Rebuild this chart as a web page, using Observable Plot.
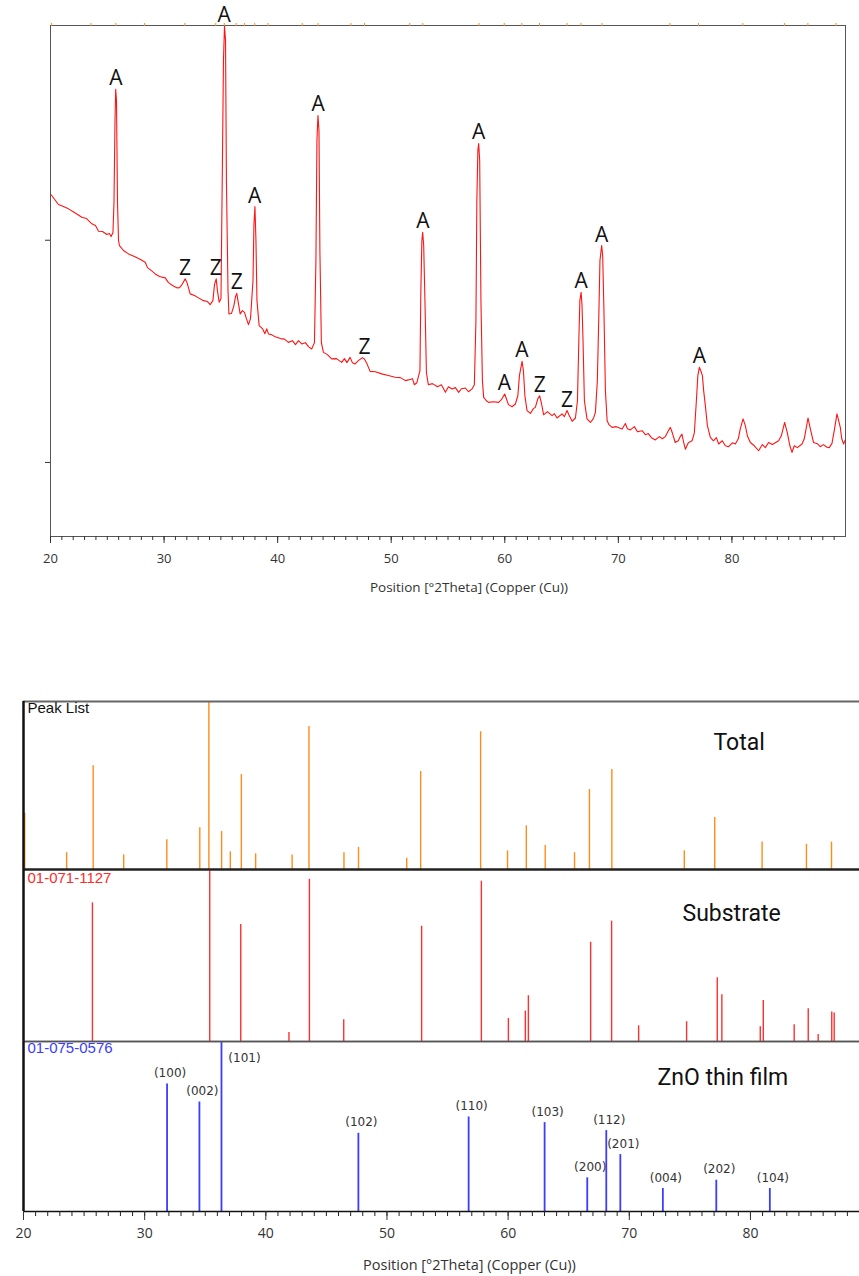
<!DOCTYPE html>
<html><head><meta charset="utf-8">
<script src="https://cdn.jsdelivr.net/npm/d3@7"></script>
<script src="https://cdn.jsdelivr.net/npm/@observablehq/plot@0.6"></script>
<style>
html,body{margin:0;padding:0;background:#fff;}
#wrap{position:relative;width:859px;height:1276px;overflow:hidden;background:#fff;}
#wrap svg{position:absolute;left:0;}
.axt{position:absolute;transform:translateX(-50%);white-space:nowrap;font-family:"Open Sans";color:#333;line-height:1;}
</style></head><body><div id="wrap"></div>
<script>
// ---------- Measured XRD pattern (top chart) ----------
const twoTheta = [20.04,20.70,21.14,21.58,22.11,22.76,23.17,23.64,23.96,24.23,24.58,24.96,25.19,25.34,25.50,25.59,25.68,25.74,25.81,25.90,25.99,26.07,26.43,26.87,27.39,27.92,28.34,28.54,28.89,29.22,29.60,30.10,30.39,30.74,31.12,31.36,31.58,31.86,32.02,32.30,32.68,33.03,33.47,33.82,34.06,34.30,34.44,34.59,34.70,34.85,35.01,35.14,35.23,35.32,35.41,35.49,35.63,35.71,35.93,36.15,36.29,36.40,36.55,36.70,36.90,37.08,37.25,37.43,37.61,37.83,37.91,38.00,38.09,38.18,38.37,38.66,38.88,39.04,39.19,39.45,39.78,40.25,40.60,40.95,41.30,41.57,41.83,42.12,42.45,42.71,43.00,43.24,43.37,43.46,43.55,43.64,43.72,43.85,44.03,44.38,44.76,45.18,45.64,45.88,46.10,46.38,46.58,46.82,47.11,47.46,47.64,47.86,48.14,48.61,49.16,49.75,50.34,50.81,51.25,51.51,51.87,52.04,52.26,52.53,52.61,52.70,52.77,52.86,52.97,53.10,53.27,53.63,54.07,54.42,54.77,55.04,55.36,55.65,55.94,56.18,56.53,56.80,57.12,57.32,57.46,57.54,57.63,57.70,57.79,57.90,58.03,58.14,58.38,58.58,59.00,59.46,59.70,59.99,60.14,60.32,60.64,60.93,61.15,61.29,61.52,61.64,61.77,61.96,62.25,62.52,62.69,62.91,63.07,63.22,63.42,63.75,64.16,64.37,64.60,65.04,65.25,65.48,65.64,65.93,66.22,66.40,66.52,66.61,66.72,66.80,66.89,67.01,67.24,67.54,67.80,67.98,68.15,68.29,68.38,68.53,68.62,68.73,68.86,69.01,69.17,69.45,69.82,70.33,70.62,70.79,71.06,71.41,71.68,72.09,72.38,72.64,72.91,73.26,73.61,73.87,74.14,74.40,74.58,74.75,75.01,75.28,75.45,75.60,75.72,75.90,76.16,76.49,76.69,76.87,77.00,77.13,77.26,77.40,77.51,77.66,77.84,78.10,78.37,78.63,78.83,79.15,79.42,79.71,80.04,80.30,80.56,80.74,80.98,81.18,81.36,81.62,81.97,82.35,82.68,82.94,83.23,83.56,83.82,84.11,84.35,84.64,84.88,85.10,85.29,85.49,85.76,86.17,86.37,86.70,86.90,87.19,87.52,87.78,88.05,88.37,88.57,88.81,89.01,89.25,89.40,89.54,89.67,89.83,89.98];
const counts = [2132,2009,1985,1957,1913,1858,1843,1782,1763,1699,1696,1662,1673,1640,1684,2033,3156,3644,3467,2033,1597,1543,1491,1456,1429,1398,1371,1318,1289,1257,1232,1219,1175,1148,1127,1129,1157,1210,1175,1073,1058,1038,1014,1006,980,1014,1157,1210,1102,1000,1032,2578,4132,4744,4487,2311,1102,903,906,972,1049,1078,989,903,930,916,865,818,865,1194,1763,1985,1597,1014,811,788,750,786,748,743,728,714,710,687,699,671,699,676,685,657,641,685,1388,2859,3232,3005,1491,685,618,603,575,577,553,577,551,585,551,543,564,583,575,545,497,495,482,472,462,460,443,447,454,420,431,501,1102,1597,1688,1543,1014,489,420,426,409,420,379,409,397,404,379,398,402,382,397,420,850,2058,2717,2816,2578,1014,443,353,336,328,331,328,341,370,346,317,307,320,361,472,559,501,361,289,276,298,304,346,361,326,270,284,266,275,256,274,262,289,270,242,256,336,699,1014,1087,972,699,336,252,237,253,281,443,930,1388,1543,1439,930,388,245,228,217,220,211,233,212,207,220,200,204,189,193,178,170,182,174,182,204,217,196,161,167,182,191,167,139,160,167,196,336,472,522,501,472,388,312,224,179,167,178,156,167,150,147,160,156,174,212,252,224,185,161,150,134,154,144,161,154,160,167,185,237,196,150,129,150,144,156,174,256,212,161,157,147,154,145,144,158,204,274,245,217,174,156,170];

// Phase labels on the measured pattern
const labelPos  = [25.75,31.85,34.55,35.3,36.4,37.98,43.56,47.65,52.78,57.7,59.97,61.5,63.07,65.48,66.72,68.53,77.13];
const labelText = ["A","Z","Z","A","Z","A","A","Z","A","A","A","A","Z","Z","A","A","A"];

// ---------- Peak list (Total) ----------
const peakListPos = [20.1,23.56,25.75,28.27,31.83,34.55,35.3,36.35,37.07,37.98,39.16,42.17,43.56,46.45,47.65,51.63,52.78,57.73,59.95,61.5,63.06,65.48,66.71,68.56,74.54,77.05,80.96,84.62,86.69,89.16];
const peakListRel = [33.5,10,61.7,8.7,17.7,24.8,100,22.6,10.5,56.5,9.3,8.7,85.1,10,13.1,6.7,58.3,82,11.1,26,14.3,10,47.6,59.5,11.1,31,16.3,15,16.3,20];

// ---------- Substrate reference 01-071-1127 ----------
const subPos = [25.69,35.37,37.93,41.91,43.6,46.43,52.86,57.79,60.02,61.42,61.67,66.81,68.54,70.77,74.73,77.26,77.64,80.81,81.06,83.61,84.77,85.59,86.71,86.91];
const subRel = [80.6,100,68,5.2,94.3,12.6,67,93.2,13.4,17.7,26.6,57.7,70,9.1,11.5,37.1,27.2,8.6,23.9,9.7,19,4.1,17.1,16.5];

// ---------- ZnO reference 01-075-0576 ----------
const znoPos = [31.85,34.52,36.34,47.64,56.74,63.01,66.53,68.1,69.26,72.77,77.18,81.6];
const znoRel = [75,64.4,100,46,55.6,52.3,19.8,47.6,33.5,13.5,18.4,13.5];
const znoHkl = ["(100)","(002)","(101)","(102)","(110)","(103)","(200)","(112)","(201)","(004)","(202)","(104)"];

const xMinorTop = d3.range(20, 90, 1);
const xMajor = [20, 30, 40, 50, 60, 70, 80];
const yTicksTop = [100, 1600];
const axisTitle = "Position [°2Theta] (Copper (Cu))";

if (twoTheta.length !== counts.length) throw new Error("length mismatch " + twoTheta.length + " vs " + counts.length);

const series = twoTheta.map((t, i) => ({t, c: counts[i]}));
const peakMax = p => d3.max(series.filter(d => Math.abs(d.t - p) <= 0.25), d => d.c);
const labels = labelPos.map((p, i) => ({p, s: labelText[i], c: peakMax(p)}));
const peakRows = peakListPos.map((p, i) => ({p, h: peakListRel[i]}));
const subRows = subPos.map((p, i) => ({p, h: subRel[i]}));
const znoRows = znoPos.map((p, i) => ({p, h: znoRel[i], hkl: znoHkl[i]}));

const wrap = document.getElementById("wrap");
const baseStyle = {background: "transparent", fontFamily: "Open Sans", color: "#333", overflow: "visible"};
const blank = () => "";
function place(svg, top) { svg.style.top = top + "px"; svg.style.position = "absolute"; wrap.appendChild(svg); }

// ---------- Top chart ----------
const topChart = Plot.plot({
  width: 859, height: 600,
  marginLeft: 50, marginRight: 14, marginTop: 25, marginBottom: 64,
  style: {...baseStyle, fontSize: "13px"},
  x: {domain: [20, 90]},
  y: {type: "sqrt", domain: [0, 4760]},
  marks: [
    Plot.line(series, {x: "t", y: "c", stroke: "#ff1414", strokeWidth: 1.1}),
    Plot.frame({stroke: "#555"}),
    Plot.axisX(xMinorTop, {tickSize: 4, tickFormat: blank, label: null, color: "#333"}),
    Plot.axisX(xMajor, {tickSize: 7, tickPadding: 10, label: null, color: "#333"}),
    Plot.axisY(yTicksTop, {tickSize: 5, tickFormat: blank, label: null, color: "#333"}),
    Plot.axisX(peakListPos, {anchor: "top", tickSize: 3, tickFormat: blank, label: null, color: "#ff8c1a"}),
    Plot.text(labels, {x: "p", y: "c", text: "s", lineAnchor: "bottom", dy: -4, fontSize: 21, fill: "#111", fontFamily: "Open Sans"})
  ]
});
place(topChart, 0);

// ---------- Bottom chart: three stacked panels ----------
const panelBase = {
  width: 859, marginLeft: 23, marginRight: 0, marginTop: 2,
  y: {domain: [0, 100], axis: null}
};
const leftBorder = Plot.ruleX([20], {stroke: "#111", strokeWidth: 2.5});

const p1 = Plot.plot({
  ...panelBase, height: 172, marginBottom: 2,
  x: {domain: [20, 89], axis: null},
  style: {...baseStyle},
  marks: [
    Plot.ruleX(peakRows, {x: "p", y1: 0, y2: "h", stroke: "#ff8c1a", strokeWidth: 1.4, clip: true}),
    Plot.ruleY([100], {stroke: "#666", strokeWidth: 2}),
    Plot.ruleY([0], {stroke: "#222", strokeWidth: 2}),
    leftBorder,
    Plot.text(["Peak List"], {text: d => d, frameAnchor: "top-left", textAnchor: "start", lineAnchor: "middle", dx: 4, dy: 7, fontSize: 15, fontFamily: "Liberation Sans", fill: "#111"}),
    Plot.text(["Total"], {text: d => d, frameAnchor: "top-left", textAnchor: "start", lineAnchor: "middle", dx: 690, dy: 41, fontSize: 23, fontFamily: "Roboto", fill: "#111"})
  ]
});
place(p1, 699);

const p2 = Plot.plot({
  ...panelBase, height: 176, marginBottom: 2,
  x: {domain: [20, 89], axis: null},
  style: {...baseStyle},
  marks: [
    Plot.ruleX(subRows, {x: "p", y1: 0, y2: "h", stroke: "#ff3030", strokeWidth: 1.4, clip: true}),
    Plot.ruleY([100], {stroke: "#222", strokeWidth: 2}),
    Plot.ruleY([0], {stroke: "#555", strokeWidth: 1.5}),
    leftBorder,
    Plot.text(["01-071-1127"], {text: d => d, frameAnchor: "top-left", textAnchor: "start", lineAnchor: "middle", dx: 4, dy: 9, fontSize: 15, fontFamily: "Liberation Sans", fill: "#ff2a2a"}),
    Plot.text(["Substrate"], {text: d => d, frameAnchor: "top-left", textAnchor: "start", lineAnchor: "middle", dx: 659, dy: 44, fontSize: 23, fontFamily: "Roboto", fill: "#111"})
  ]
});
place(p2, 867);

const p3 = Plot.plot({
  ...panelBase, height: 237, marginBottom: 65,
  x: {domain: [20, 89]},
  style: {...baseStyle, fontSize: "14px"},
  marks: [
    Plot.ruleX(znoRows, {x: "p", y1: 0, y2: "h", stroke: "#3c3cff", strokeWidth: 1.8, clip: true}),
    Plot.text(znoRows.filter(d => d.h < 100), {x: "p", y: "h", text: "hkl", lineAnchor: "bottom", dx: 3, dy: -7, fontSize: 12, fontFamily: "DejaVu Sans", fill: "#333"}),
    Plot.text(znoRows.filter(d => d.h >= 100), {x: "p", y: "h", text: "hkl", lineAnchor: "middle", dx: 23, dy: 17, fontSize: 12, fontFamily: "DejaVu Sans", fill: "#333"}),
    Plot.ruleY([100], {stroke: "#555", strokeWidth: 1.5}),
    Plot.ruleY([0], {stroke: "#111", strokeWidth: 1.5}),
    leftBorder,
    Plot.axisX(d3.range(20, 90, 1), {tickSize: 5, tickFormat: blank, label: null, color: "#222"}),
    Plot.axisX(xMajor, {tickSize: 9, tickPadding: 8, label: null, color: "#333"}),
    Plot.text(["01-075-0576"], {text: d => d, frameAnchor: "top-left", textAnchor: "start", lineAnchor: "middle", dx: 4, dy: 7, fontSize: 15, fontFamily: "Liberation Sans", fill: "#3c3cff"}),
    Plot.text(["ZnO thin film"], {text: d => d, frameAnchor: "top-left", textAnchor: "start", lineAnchor: "middle", dx: 634, dy: 36, fontSize: 23, fontFamily: "Roboto", fill: "#111"})
  ]
});
place(p3, 1039);

// axis titles
function title(cx, cy, size) {
  const d = document.createElement("div");
  d.className = "axt";
  d.textContent = axisTitle;
  d.style.left = cx + "px";
  d.style.top = (cy - size / 2) + "px";
  d.style.fontSize = size + "px";
  wrap.appendChild(d);
}
title(469, 588, 13.5);
title(469.5, 1265, 14.5);
</script></body></html>
